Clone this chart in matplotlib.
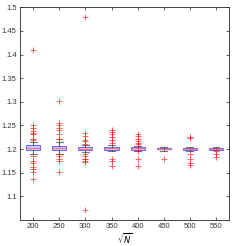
import matplotlib
matplotlib.use('Agg')
from matplotlib import pyplot as plt
from matplotlib.ticker import FormatStrFormatter

# groups on the x axis (sqrt N)
positions = [200, 250, 300, 350, 400, 450, 500, 550]

# box statistics
q1 = [1.198, 1.199, 1.197, 1.198, 1.199, 1.1995, 1.199, 1.199]
med = [1.203, 1.203, 1.201, 1.202, 1.2015, 1.201, 1.201, 1.201]
q3 = [1.208, 1.207, 1.205, 1.205, 1.204, 1.2025, 1.203, 1.203]
whislo = [1.189, 1.190, 1.193, 1.195, 1.196, 1.196, 1.196, 1.197]
whishi = [1.216, 1.214, 1.209, 1.208, 1.207, 1.205, 1.205, 1.205]

# outliers per group
fliers_200 = [1.41, 1.251, 1.245, 1.238, 1.235, 1.232, 1.221, 1.219,
              1.186, 1.175, 1.17, 1.162, 1.158, 1.152, 1.136]
fliers_250 = [1.302, 1.255, 1.25, 1.245, 1.24, 1.232, 1.222, 1.221,
              1.19, 1.185, 1.178, 1.175, 1.152]
fliers_300 = [1.48, 1.235, 1.228, 1.22, 1.218, 1.21, 1.19, 1.185,
              1.18, 1.178, 1.175, 1.172, 1.07]
fliers_350 = [1.24, 1.237, 1.232, 1.225, 1.22, 1.213, 1.178, 1.175, 1.165]
fliers_400 = [1.232, 1.228, 1.222, 1.218, 1.213, 1.21, 1.195, 1.18, 1.165]
fliers_450 = [1.178]
fliers_500 = [1.226, 1.224, 1.19, 1.18, 1.17, 1.166]
fliers_550 = [1.196, 1.19, 1.184]
fliers = [fliers_200, fliers_250, fliers_300, fliers_350,
          fliers_400, fliers_450, fliers_500, fliers_550]

plt.rcParams['font.family'] = ['Liberation Sans', 'DejaVu Sans']
plt.rcParams['font.size'] = 5.5

stats = []
for i in range(len(positions)):
	stats.append(dict(med=med[i], q1=q1[i], q3=q3[i], whislo=whislo[i],
	                  whishi=whishi[i], fliers=fliers[i]))

fig = plt.figure(figsize=(2.45, 2.46), dpi=100)
ax = fig.add_axes([0.082, 0.106, 0.853, 0.864])

ax.bxp(stats, positions=positions, widths=27, patch_artist=True,
       boxprops=dict(facecolor=(0.55, 0.6, 1.0, 0.45), edgecolor=(0.3, 0.3, 1.0, 0.8), linewidth=0.8),
       medianprops=dict(color=(1.0, 0.45, 0.45, 0.9), linewidth=1.0),
       whiskerprops=dict(color=(0.25, 0.25, 0.25), linewidth=0.6),
       capprops=dict(color=(0.25, 0.25, 0.25, 0.7), linewidth=0.8),
       capwidths=13,
       flierprops=dict(marker='+', markeredgecolor=(1.0, 0.0, 0.0, 0.6),
                       markersize=4, markeredgewidth=0.7, linestyle='none'))

ax.set_xlim(175, 575)
ax.set_ylim(1.05, 1.5)
ax.set_xticks(positions)
ax.set_xticklabels([str(p) for p in positions])
ax.set_yticks([1.1, 1.15, 1.2, 1.25, 1.3, 1.35, 1.4, 1.45, 1.5])
ax.yaxis.set_major_formatter(FormatStrFormatter('%g'))
ax.tick_params(direction='in', top=True, right=True, length=2, width=0.5,
               colors=(0.15, 0.15, 0.15), labelcolor=(0.2, 0.2, 0.2), pad=2.5)
for s in ax.spines.values():
	s.set_linewidth(0.6)
	s.set_color((0.15, 0.15, 0.15))
ax.set_xlabel(r'$\sqrt{N}$', fontsize=6, labelpad=1)

fig.savefig('out.png', dpi=100)
